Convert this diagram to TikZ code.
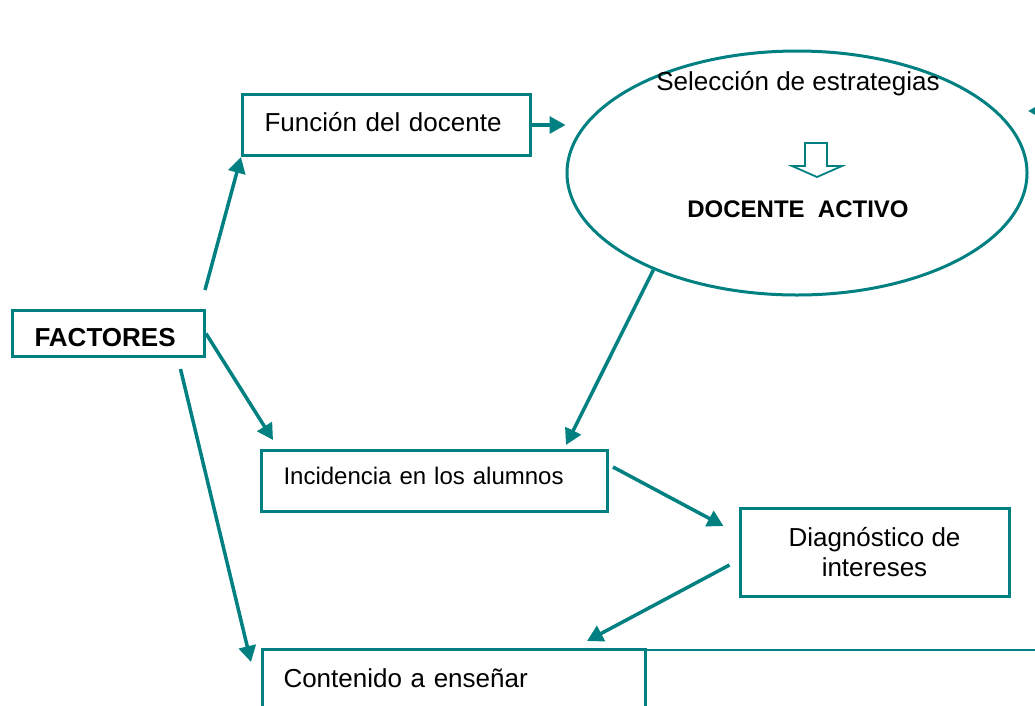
\documentclass[tikz,border=0pt]{standalone}
\usepackage{fontspec}
\setmainfont{Liberation Sans}
\usetikzlibrary{shapes.geometric,arrows.meta}
\definecolor{verdeazul}{RGB}{0,128,128}

\begin{document}
\begin{tikzpicture}[x=1pt,y=-1pt,
		caja/.style={draw=verdeazul,line width=3pt,inner sep=0pt,align=left,font=\fontsize{26}{30}\selectfont},
		flecha/.style={verdeazul,line width=3.5pt,-{Triangle[length=16pt,width=17pt]}}]
	\clip (0,0) rectangle (1035,705);
	%CAJAS
	\node[caja,anchor=north west,inner xsep=22pt,text width=148pt,text height=36pt,text depth=10pt,font=\fontsize{26}{30}\selectfont\bfseries] (factores) at (11,309) {FACTORES};
	\node[caja,anchor=north west,inner xsep=22pt,text width=244pt,text height=37pt,text depth=24pt] (funcion) at (241,93) {Función del docente};
	\node[caja,anchor=north west,inner xsep=22pt,text width=302pt,text height=34pt,text depth=27pt,font=\fontsize{24}{28}\selectfont] (incidencia) at (260,449) {Incidencia en los alumnos};
	\node[caja,align=center,minimum width=269pt,minimum height=88pt,font=\fontsize{26}{30}\selectfont] (diagnostico) at (874.5,552) {Diagnóstico de\\intereses};
	\node[caja,anchor=north west,inner xsep=21pt,text width=341pt,text height=38pt,text depth=60pt] (contenido) at (261,648) {Contenido a enseñar};
	
	%ELIPSE
	\node[draw=verdeazul,line width=3pt,ellipse,minimum width=460pt,minimum height=244pt,inner sep=0pt] (seleccion) at (797,173) {};
	\node[anchor=base,font=\fontsize{26}{30}\selectfont] (estrategias) at (798,90) {Selección de estrategias};
	\node[anchor=base,font=\fontsize{24}{28}\selectfont\bfseries] (activo) at (798,217) {DOCENTE\ \ ACTIVO};
	\draw[verdeazul,line width=1.8pt] (805,143) -- (827,143) -- (827,166) -- (842,166) -- (817,177) -- (792,166) -- (805,166) -- cycle;
	
	%FLECHAS
	\draw[flecha] ([xshift=-1pt,yshift=19pt]factores.north east) -- (funcion.south west);
	\draw[flecha] (factores.east) -- ([xshift=13pt,yshift=9pt]incidencia.north west);
	\draw[flecha] ([xshift=72pt,yshift=-11pt]factores.south) -- ([xshift=-10pt,yshift=-14pt]contenido.north west);
	\draw[flecha] (funcion.east) -- (funcion.east -| seleccion.west);
	\draw[flecha] (seleccion.214) -- ([xshift=-43pt,yshift=4pt]incidencia.north east);
	\draw[flecha] ([xshift=4pt,yshift=14pt]incidencia.east) -- ([xshift=-15pt,yshift=26pt]diagnostico.west);
	\draw[flecha] ([xshift=-9pt,yshift=-13pt]diagnostico.west) -- ([xshift=326pt,yshift=7pt]contenido.north west);
	\coordinate (fuera) at (1060,111);
	\coordinate (punta) at (1028,111);
	\draw[flecha] (fuera) -- (punta);
	\coordinate (borde) at (1040,650);
	\draw[verdeazul,line width=2.6pt] (contenido.north east |- borde) -- (borde);
\end{tikzpicture}
\end{document}
